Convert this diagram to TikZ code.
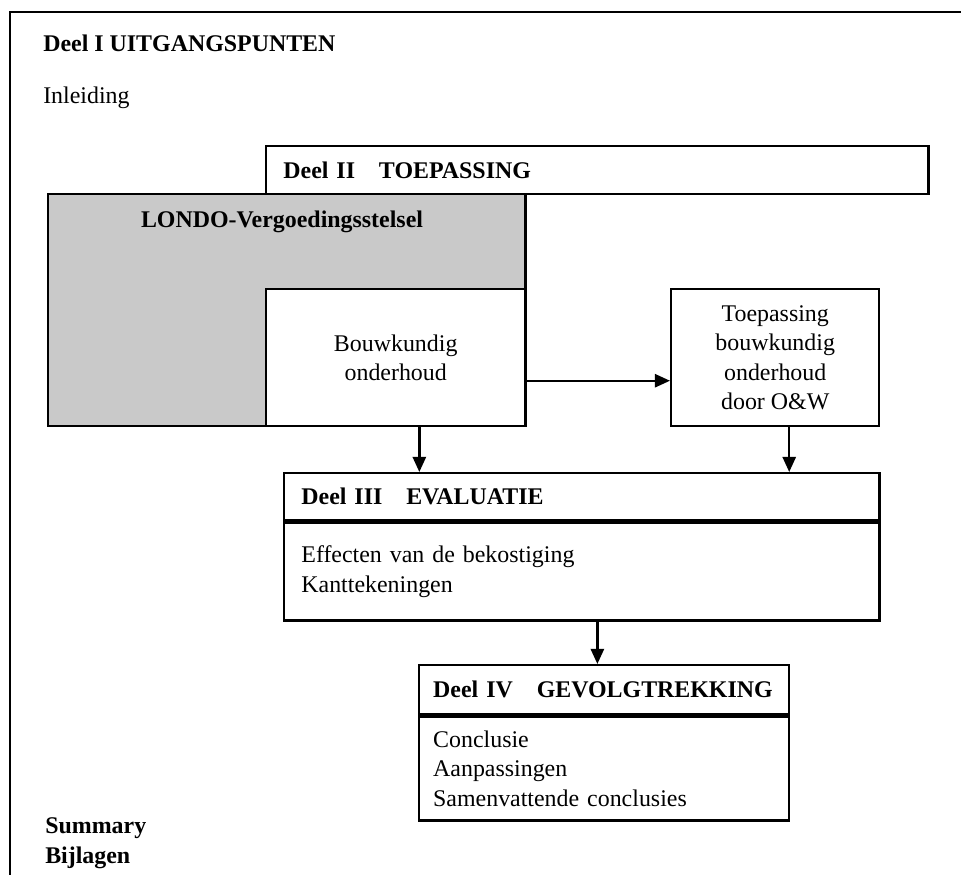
\documentclass[tikz,border=0pt]{standalone}
\usepackage{fontspec}
\setmainfont{Liberation Serif}
\usetikzlibrary{positioning}
\usetikzlibrary{arrows.meta}
\tikzset{%
  myedge/.style={-{Triangle[length=0.38cm,width=0.33cm]}, line width=1.7pt},
  mybox/.style={draw=black, line width=1.7pt, anchor=north west, inner sep=0pt},
  mytext/.style={font=\fontsize{17}{21}\selectfont, inner sep=0pt, align=left},
  mybold/.style={font=\fontsize{17}{21}\selectfont\bfseries, inner sep=0pt, align=left}
}

\begin{document}
\begin{tikzpicture}[x=0.025cm, y=-0.025cm]
  \useasboundingbox (0,0) rectangle (961,875);
  \draw[line width=1.7pt] (10,875) -- (10,12) -- (961,12);

  \node[mybold, anchor=west] (d1) at (43,43) {Deel I UITGANGSPUNTEN};
  \node[mytext, anchor=west] (inl) at (43,98) {Inleiding};

  \node[mybox, fill=gray!42, minimum width=11.925cm, minimum height=5.8cm] (londo) at (47,193) {};
  \node[mybold] (lt) at (282,222) {LONDO-Vergoedingsstelsel};
  \node[mybox, fill=white, mybold, inner xsep=0.43cm, text width=15.69cm, minimum height=1.2cm] (d2) at (265,145) {Deel II\quad TOEPASSING};
  \node[mybox, fill=white, mytext, align=center, minimum width=6.475cm, minimum height=3.425cm] (bouw) at (265,288) {Bouwkundig\\onderhoud};
  \node[mybox, mytext, align=center, minimum width=5.2cm, minimum height=3.425cm] (toep) at (670,288) {Toepassing\\bouwkundig\\onderhoud\\door O\&W};

  \node[mybox, mybold, inner xsep=0.43cm, text width=14.015cm, minimum height=1.175cm] (d3) at (283,472) {Deel III\quad EVALUATIE};
  \node[mybox, mytext, inner xsep=0.43cm, text width=14.015cm, minimum height=2.45cm] (d3b) at (d3.south west) {Effecten van de bekostiging\\Kanttekeningen};

  \node[mybox, mybold, inner xsep=0.35cm, text width=8.55cm, minimum height=1.225cm] (d4) at (418,664) {Deel IV\quad GEVOLGTREKKING};
  \node[mybox, mytext, inner xsep=0.35cm, text width=8.55cm, minimum height=2.6cm] (d4b) at (d4.south west) {Conclusie\\Aanpassingen\\Samenvattende conclusies};

  \node[mybold, anchor=west] (sum) at (45,843) {Summary\\Bijlagen};

  \draw[myedge] ([yshift=-0.575cm]bouw.east) -- ([yshift=-0.575cm]toep.west);
  \draw[myedge] ([xshift=0.59cm]bouw.south) -- ([xshift=0.59cm]bouw.south |- d3.north);
  \draw[myedge] ([xshift=0.35cm]toep.south) -- ([xshift=0.35cm]toep.south |- d3.north);
  \draw[myedge] ([xshift=0.39cm]d3b.south) -- ([xshift=0.39cm]d3b.south |- d4.north);
\end{tikzpicture}
\end{document}
